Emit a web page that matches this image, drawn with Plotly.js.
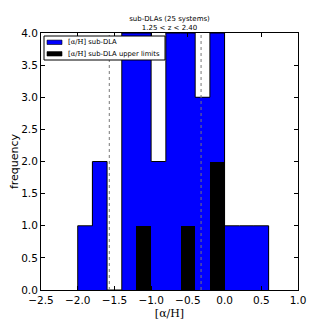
<!DOCTYPE html>
<html>
<head>
<meta charset="utf-8">
<script src="https://cdn.plot.ly/plotly-3.0.1.min.js"></script>
<style>
  html, body { margin: 0; padding: 0; background: #fff; }
  #myDiv { width: 332px; height: 332px; }
</style>
</head>
<body>
<div id="myDiv"></div>
<script>
// bins of 0.2 in [alpha/H]
var binEdges = [-2.0, -1.8, -1.6, -1.4, -1.2, -1.0, -0.8, -0.6, -0.4, -0.2, 0.0, 0.2, 0.4, 0.6];
var subDLA = [1, 2, 0, 4, 4, 2, 4, 4, 3, 4, 1, 1, 1];          // detections
var upperLim = [0, 0, 0, 0, 1, 0, 0, 1, 0, 2, 0, 0, 0];        // upper limits
var refLines = [-1.57, -0.32];                                 // dotted markers
var seriesNames = ['sub-DLA', 'sub-DLA upper limits'];
var seriesColors = ['#0000ff', '#000000'];

var centers = [];
var widths = [];
for (var i = 0; i < binEdges.length - 1; i++) {
  centers.push((binEdges[i] + binEdges[i + 1]) / 2);
  widths.push(binEdges[i + 1] - binEdges[i]);
}

// outline of the step histogram
var stepX = [binEdges[0]];
var stepY = [0];
for (var i = 0; i < subDLA.length; i++) {
  stepX.push(binEdges[i]);
  stepY.push(subDLA[i]);
}
stepX.push(binEdges[binEdges.length - 1]);
stepY.push(0);

var trace1 = {
  x: centers, y: subDLA, width: widths, type: 'bar',
  marker: { color: seriesColors[0], line: { width: 0 } },
  showlegend: false
};

var trace2 = {
  x: centers, y: upperLim, width: widths, type: 'bar',
  marker: { color: seriesColors[1], line: { width: 0 } },
  showlegend: false
};

var outline = {
  x: stepX, y: stepY, type: 'scatter', mode: 'lines',
  line: { color: '#000', width: 1, shape: 'hv' },
  showlegend: false, hoverinfo: 'skip'
};

var shapes = refLines.map(function (v) {
  return {
    type: 'line', xref: 'x', yref: 'paper', x0: v, x1: v, y0: 0, y1: 1,
    line: { color: '#777', width: 1, dash: 'dot' }, layer: 'above'
  };
});

// hand drawn legend (plot area is 41..298 x 33..290 px)
function px(X) { return (X - 41) / 257; }
function py(Y) { return (290 - Y) / 257; }

shapes.push({
  type: 'rect', xref: 'paper', yref: 'paper',
  x0: px(44), x1: px(165), y0: py(60), y1: py(36),
  line: { color: '#000', width: 1 }, fillcolor: '#fff', layer: 'above'
});

var annotations = [];
var mathLbl = '<span style="font-family:\'DejaVu Serif\'">[α/H]</span> ';
for (var k = 0; k < seriesNames.length; k++) {
  var yc = 42.3 + k * 11.5;
  shapes.push({
    type: 'rect', xref: 'paper', yref: 'paper',
    x0: px(47), x1: px(62), y0: py(yc + 2.2), y1: py(yc - 2.2),
    line: { color: '#000', width: 0.6 }, fillcolor: seriesColors[k], layer: 'above'
  });
  annotations.push({
    xref: 'paper', yref: 'paper', x: px(66), y: py(yc),
    xanchor: 'left', yanchor: 'middle', showarrow: false,
    text: mathLbl + seriesNames[k],
    font: { family: 'DejaVu Sans', size: 6.8, color: '#000' }
  });
}

var tickFont = { family: 'DejaVu Sans', size: 10.5, color: '#000' };

var layout = {
  width: 332,
  height: 332,
  margin: { l: 41, r: 34, t: 33, b: 42 },
  paper_bgcolor: '#fff',
  plot_bgcolor: '#fff',
  barmode: 'overlay',
  bargap: 0,
  showlegend: false,
  title: {
    text: 'sub-DLAs (25 systems)<br>1.25 &lt; z &lt; 2.40',
    font: { family: 'DejaVu Sans', size: 7, color: '#000' },
    x: 0.5, xref: 'paper', xanchor: 'center',
    y: 1 - 21 / 332, yref: 'container', yanchor: 'top'
  },
  xaxis: {
    range: [-2.5, 1.0],
    tick0: -2.5, dtick: 0.5,
    tickformat: '.1f',
    ticks: 'inside', ticklen: 4, tickcolor: '#000',
    showline: true, linecolor: '#000', linewidth: 1, mirror: 'ticks',
    showgrid: false, zeroline: false,
    layer: 'above traces',
    tickfont: tickFont,
    title: { text: '[α/H]', font: { family: 'DejaVu Serif', size: 11, color: '#000' }, standoff: 4 }
  },
  yaxis: {
    range: [0, 4.0],
    tick0: 0, dtick: 0.5,
    tickformat: '.1f',
    ticks: 'inside', ticklen: 4, tickcolor: '#000',
    showline: true, linecolor: '#000', linewidth: 1, mirror: 'ticks',
    showgrid: false, zeroline: false,
    layer: 'above traces',
    tickfont: tickFont,
    title: { text: 'frequency', font: { family: 'DejaVu Sans', size: 11, color: '#000' }, standoff: 0 }
  },
  shapes: shapes,
  annotations: annotations
};

Plotly.newPlot('myDiv', [trace1, trace2, outline], layout, { displayModeBar: false, staticPlot: true });
</script>
</body>
</html>
